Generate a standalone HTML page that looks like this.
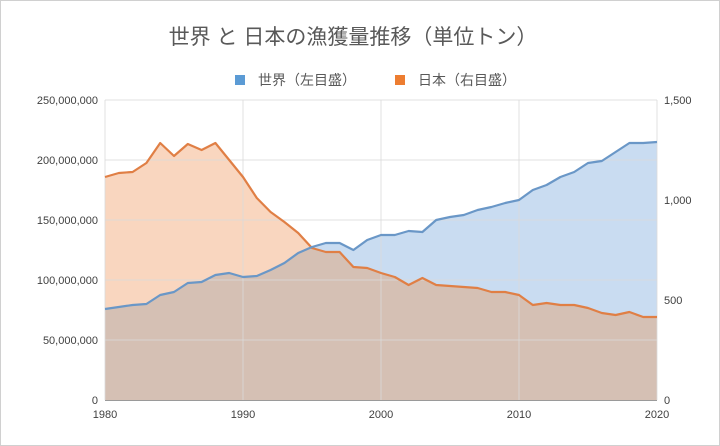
<!DOCTYPE html>
<html><head><meta charset="utf-8"><style>
html,body{margin:0;padding:0;background:#fff;}
body{width:720px;height:446px;overflow:hidden;font-family:"Liberation Sans","Noto Sans CJK JP",sans-serif;}
</style></head><body>
<svg id="s" width="720" height="446" xmlns="http://www.w3.org/2000/svg" style="position:absolute;left:0;top:0">
<rect x="0.5" y="0.5" width="719" height="445" fill="#fff" stroke="#d0d0d0"/>
<text x="353" y="44" text-anchor="middle" font-size="21" fill="#595959" font-family="Liberation Sans,Noto Sans CJK JP,sans-serif">世界 と 日本の漁獲量推移（単位トン）</text>
<rect x="235" y="75" width="10" height="10" fill="#5b9bd5"/>
<text x="258" y="85" font-size="14" fill="#595959" font-family="Liberation Sans,Noto Sans CJK JP,sans-serif">世界（左目盛）</text>
<rect x="395" y="75" width="10" height="10" fill="#ed7d31"/>
<text x="418" y="85" font-size="14" fill="#595959" font-family="Liberation Sans,Noto Sans CJK JP,sans-serif">日本（右目盛）</text>
<g id="g"></g>
</svg>
<script>
var B=[309,307,305,304,295,292,283,282,275,273,277,276,270,263,253,247,243,243,250,240,235,235,231,232,220,217,215,210,207,203,200,190,185,177,172,163,161,152,143,143,142];
var O=[177,173,172,163,143,156,144,150,143,160,177,198,212,222,233,248,252,252,267,268,273,277,285,278,285,286,287,288,292,292,295,305,303,305,305,308,313,315,312,317,317];
function X(i){return 105+i*13.8;}
var ns="http://www.w3.org/2000/svg",g=document.getElementById('g'),h='';
function area(a,c){var d='M105,400';for(var i=0;i<a.length;i++)d+=' L'+X(i).toFixed(1)+','+a[i];d+=' L'+X(a.length-1)+',400Z';return '<path d="'+d+'" fill="'+c+'"/>';}
function line(a,c){var d='';for(var i=0;i<a.length;i++)d+=(i?' L':'M')+X(i).toFixed(1)+','+a[i];return '<path d="'+d+'" fill="none" stroke="'+c+'" stroke-width="2.2" stroke-linejoin="round"/>';}
var M=B.map(function(v,i){return Math.max(v,O[i]);});
h+=area(B,'#c9dcf1')+area(O,'#f9d6bf')+area(M,'#d5c0b4');
for(var k=0;k<5;k++){var y=100+k*60;h+='<line x1="105" x2="657" y1="'+y+'" y2="'+y+'" stroke="#d9d9d9" stroke-opacity="0.8"/>';}
for(var k=0;k<=4;k++){var x=105+k*138;h+='<line x1="'+x+'" x2="'+x+'" y1="100" y2="400" stroke="#d9d9d9" stroke-opacity="0.8"/>';}
h+='<line x1="105" x2="657" y1="400.5" y2="400.5" stroke="#9a9a9a"/>';
h+=line(O,'#e07f45')+line(B,'#6a97c7');
var L=['0','50,000,000','100,000,000','150,000,000','200,000,000','250,000,000'];
for(var k=0;k<6;k++)h+='<text x="98" y="'+(404-k*60)+'" text-anchor="end" font-size="11" fill="#404040">'+L[k]+'</text>';
var R=['0','500','1,000','1,500'];
for(var k=0;k<4;k++)h+='<text x="664" y="'+(404-k*100)+'" font-size="11" fill="#404040">'+R[k]+'</text>';
for(var k=0;k<=4;k++)h+='<text x="'+(105+k*138)+'" y="418" text-anchor="middle" font-size="11" fill="#404040">'+(1980+k*10)+'</text>';
g.innerHTML=h;
g.setAttribute('font-family','Liberation Sans,sans-serif');
</script>
</body></html>
